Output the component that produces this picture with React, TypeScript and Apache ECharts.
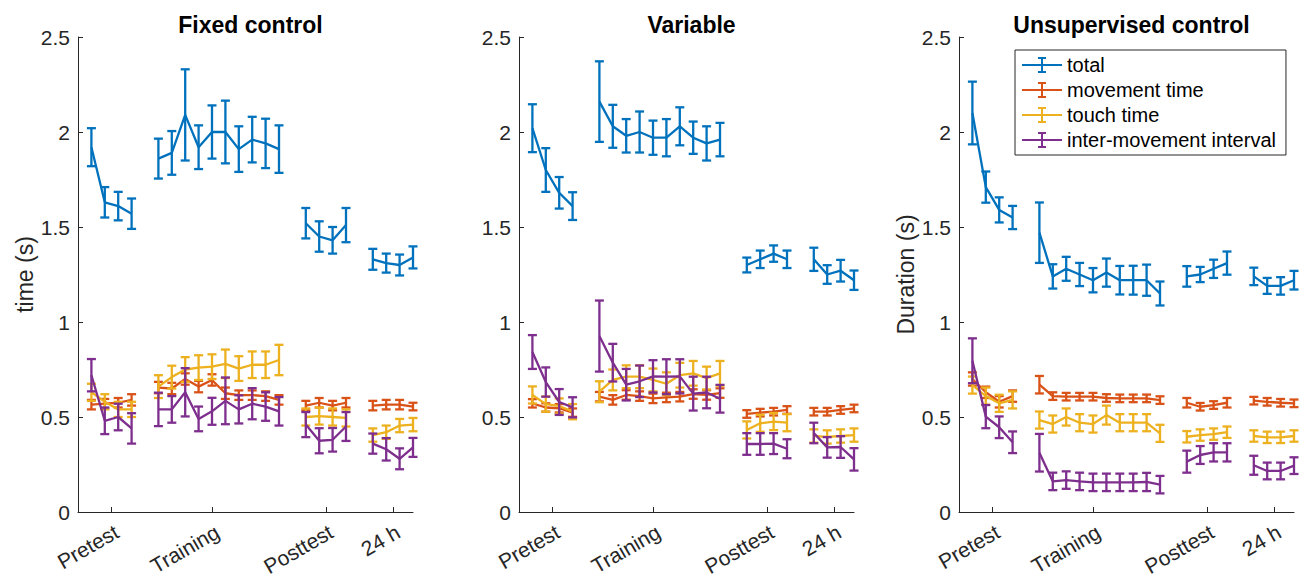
import React, { useEffect, useRef } from "react";
import * as echarts from "echarts";

// session positions on the x axis (pretest 4, training 10, posttest 4, 24 h 4)
const sessions = [1, 2, 3, 4, 6, 7, 8, 9, 10, 11, 12, 13, 14, 15, 17, 18, 19, 20, 22, 23, 24, 25];
const sessionGroup = [0, 0, 0, 0, 1, 1, 1, 1, 1, 1, 1, 1, 1, 1, 2, 2, 2, 2, 3, 3, 3, 3];
const phaseTicks = [2.5, 10, 18.5, 23.5];
const phaseLabels = ["Pretest", "Training", "Posttest", "24 h"];
const panelTitles = ["Fixed control", "Variable", "Unsupervised control"];
const measureNames = ["total", "movement time", "touch time", "inter-movement interval"];

// Fixed control
const fixedTotal = [1.92, 1.63, 1.61, 1.57, 1.86, 1.89, 2.09, 1.92, 2.0, 2.0, 1.91, 1.96, 1.94, 1.91, 1.52, 1.45, 1.43, 1.51, 1.33, 1.31, 1.3, 1.34];
const fixedTotalErr = [0.1, 0.08, 0.075, 0.08, 0.105, 0.115, 0.24, 0.115, 0.14, 0.165, 0.12, 0.12, 0.13, 0.125, 0.08, 0.08, 0.07, 0.09, 0.055, 0.05, 0.055, 0.058];
const fixedMove = [0.565, 0.57, 0.575, 0.59, 0.655, 0.65, 0.7, 0.66, 0.695, 0.625, 0.615, 0.615, 0.61, 0.59, 0.56, 0.575, 0.56, 0.575, 0.56, 0.565, 0.565, 0.555];
const fixedMoveErr = [0.025, 0.025, 0.025, 0.03, 0.03, 0.03, 0.03, 0.03, 0.03, 0.03, 0.025, 0.025, 0.025, 0.025, 0.025, 0.025, 0.025, 0.025, 0.025, 0.025, 0.025, 0.02];
const fixedTouch = [0.63, 0.58, 0.54, 0.54, 0.66, 0.71, 0.75, 0.76, 0.765, 0.78, 0.755, 0.775, 0.775, 0.8, 0.5, 0.505, 0.5, 0.495, 0.405, 0.42, 0.455, 0.46];
const fixedTouchErr = [0.045, 0.04, 0.04, 0.04, 0.06, 0.06, 0.065, 0.065, 0.065, 0.075, 0.065, 0.07, 0.07, 0.08, 0.045, 0.045, 0.045, 0.045, 0.035, 0.035, 0.035, 0.035];
const fixedIMI = [0.72, 0.48, 0.5, 0.44, 0.54, 0.54, 0.63, 0.49, 0.53, 0.585, 0.54, 0.57, 0.555, 0.53, 0.46, 0.375, 0.38, 0.45, 0.36, 0.33, 0.28, 0.34];
const fixedIMIErr = [0.085, 0.07, 0.07, 0.08, 0.088, 0.07, 0.127, 0.065, 0.071, 0.123, 0.074, 0.082, 0.075, 0.075, 0.066, 0.066, 0.062, 0.076, 0.053, 0.059, 0.055, 0.05];

// Variable
const varTotal = [2.02, 1.8, 1.68, 1.61, 2.16, 2.03, 1.98, 2.0, 1.97, 1.97, 2.03, 1.97, 1.94, 1.96, 1.3, 1.33, 1.36, 1.33, 1.33, 1.25, 1.27, 1.22];
const varTotalErr = [0.126, 0.115, 0.083, 0.073, 0.212, 0.113, 0.088, 0.108, 0.09, 0.098, 0.1, 0.085, 0.09, 0.088, 0.039, 0.046, 0.043, 0.046, 0.061, 0.049, 0.057, 0.051];
const varMove = [0.572, 0.55, 0.546, 0.523, 0.607, 0.59, 0.616, 0.61, 0.598, 0.603, 0.607, 0.621, 0.616, 0.626, 0.516, 0.523, 0.528, 0.537, 0.528, 0.528, 0.537, 0.545];
const varMoveErr = [0.022, 0.022, 0.022, 0.022, 0.025, 0.025, 0.025, 0.025, 0.025, 0.025, 0.025, 0.025, 0.025, 0.025, 0.02, 0.02, 0.02, 0.02, 0.02, 0.02, 0.02, 0.02];
const varTouch = [0.616, 0.568, 0.558, 0.528, 0.633, 0.695, 0.712, 0.712, 0.695, 0.675, 0.72, 0.73, 0.705, 0.73, 0.432, 0.467, 0.476, 0.47, 0.4, 0.395, 0.4, 0.405];
const varTouchErr = [0.045, 0.04, 0.04, 0.04, 0.055, 0.055, 0.06, 0.06, 0.06, 0.06, 0.065, 0.065, 0.06, 0.065, 0.045, 0.045, 0.045, 0.045, 0.035, 0.035, 0.035, 0.035];
const varIMI = [0.842, 0.684, 0.579, 0.551, 0.926, 0.786, 0.67, 0.688, 0.714, 0.712, 0.714, 0.623, 0.629, 0.596, 0.358, 0.358, 0.36, 0.333, 0.416, 0.34, 0.342, 0.277];
const varIMIErr = [0.089, 0.077, 0.068, 0.053, 0.187, 0.099, 0.083, 0.083, 0.085, 0.092, 0.09, 0.089, 0.083, 0.073, 0.057, 0.057, 0.055, 0.05, 0.054, 0.054, 0.057, 0.059];

// Unsupervised control
const unsTotal = [2.1, 1.71, 1.59, 1.55, 1.47, 1.24, 1.28, 1.25, 1.22, 1.26, 1.22, 1.22, 1.22, 1.15, 1.24, 1.25, 1.28, 1.31, 1.24, 1.19, 1.19, 1.22];
const unsTotalErr = [0.165, 0.082, 0.066, 0.061, 0.159, 0.064, 0.063, 0.061, 0.064, 0.074, 0.075, 0.076, 0.082, 0.063, 0.054, 0.04, 0.048, 0.061, 0.046, 0.042, 0.046, 0.049];
const unsMove = [0.7, 0.63, 0.58, 0.61, 0.67, 0.61, 0.607, 0.607, 0.607, 0.6, 0.598, 0.598, 0.598, 0.589, 0.575, 0.554, 0.563, 0.575, 0.586, 0.58, 0.575, 0.572];
const unsMoveErr = [0.035, 0.03, 0.03, 0.03, 0.046, 0.02, 0.02, 0.02, 0.02, 0.02, 0.02, 0.02, 0.02, 0.02, 0.025, 0.02, 0.02, 0.025, 0.02, 0.02, 0.02, 0.02];
const unsTouch = [0.668, 0.61, 0.572, 0.59, 0.484, 0.463, 0.5, 0.47, 0.463, 0.51, 0.47, 0.47, 0.47, 0.414, 0.396, 0.405, 0.41, 0.42, 0.4, 0.393, 0.393, 0.4];
const unsTouchErr = [0.045, 0.045, 0.045, 0.045, 0.045, 0.045, 0.045, 0.045, 0.045, 0.05, 0.045, 0.045, 0.045, 0.045, 0.03, 0.03, 0.03, 0.03, 0.03, 0.03, 0.03, 0.03];
const unsIMI = [0.796, 0.502, 0.446, 0.367, 0.312, 0.161, 0.168, 0.161, 0.156, 0.156, 0.156, 0.156, 0.158, 0.144, 0.265, 0.3, 0.314, 0.314, 0.246, 0.216, 0.216, 0.244];
const unsIMIErr = [0.118, 0.061, 0.057, 0.057, 0.099, 0.046, 0.046, 0.046, 0.046, 0.046, 0.046, 0.046, 0.048, 0.046, 0.058, 0.047, 0.048, 0.048, 0.05, 0.044, 0.044, 0.044];

const panels = [
  { means: [fixedTotal, fixedMove, fixedTouch, fixedIMI], errs: [fixedTotalErr, fixedMoveErr, fixedTouchErr, fixedIMIErr] },
  { means: [varTotal, varMove, varTouch, varIMI], errs: [varTotalErr, varMoveErr, varTouchErr, varIMIErr] },
  { means: [unsTotal, unsMove, unsTouch, unsIMI], errs: [unsTotalErr, unsMoveErr, unsTouchErr, unsIMIErr] },
];

const COLORS = ["#0072BD", "#D95319", "#EDB120", "#7E2F8E"];
const FONT = "'Liberation Sans', Arial, Helvetica, sans-serif";
const AXIS_COLOR = "#262626";
const GRID_LEFTS = [78, 519, 959];
const GRID_TOP = 37;
const GRID_W = 335;
const GRID_H = 475;
const LINE_W = 2.3;
const LEGEND_ICON = "path://M0,7H40V9H0Z M19,1H21V15H19Z M16,0H24V2H16Z M16,14H24V16H16Z";

function buildOption() {
  const grids: any[] = [];
  const xAxes: any[] = [];
  const yAxes: any[] = [];
  const titles: any[] = [];
  const series: any[] = [];

  GRID_LEFTS.forEach((left, p) => {
    grids.push({ left, top: GRID_TOP, width: GRID_W, height: GRID_H, containLabel: false, outerBoundsMode: "none" });
    titles.push({
      text: panelTitles[p],
      left: left + GRID_W / 2,
      top: 8,
      textAlign: "center",
      textStyle: { fontFamily: FONT, fontSize: 23, fontWeight: "bold", color: "#000" },
    });
    xAxes.push({
      type: "value",
      gridIndex: p,
      min: 0,
      max: 25,
      splitLine: { show: false },
      axisLine: { show: true, lineStyle: { color: AXIS_COLOR, width: 1 } },
      axisTick: { show: true, inside: true, length: 5, customValues: phaseTicks, lineStyle: { color: AXIS_COLOR } },
      axisLabel: {
        show: true,
        customValues: phaseTicks,
        rotate: 30,
        margin: 9,
        verticalAlign: "top",
        fontFamily: FONT,
        fontSize: 21,
        color: "#262626",
        formatter: (v: number) => {
          const i = phaseTicks.indexOf(v);
          return i >= 0 ? phaseLabels[i] : "";
        },
      },
    });
    yAxes.push({
      type: "value",
      gridIndex: p,
      min: 0,
      max: 2.5,
      interval: 0.5,
      name: p === 0 ? "time (s)" : p === 2 ? "Duration (s)" : "",
      nameLocation: "middle",
      nameGap: 42,
      nameTextStyle: { fontFamily: FONT, fontSize: 23, color: "#262626" },
      splitLine: { show: false },
      axisLine: { show: true, lineStyle: { color: AXIS_COLOR, width: 1 } },
      axisTick: { show: true, inside: true, length: 5, lineStyle: { color: AXIS_COLOR } },
      axisLabel: { fontFamily: FONT, fontSize: 21, color: "#262626", margin: 8 },
    });

    panels[p].means.forEach((means, m) => {
      const errs = panels[p].errs[m];
      const color = COLORS[m];
      const lineData: any[] = [];
      sessions.forEach((x, i) => {
        if (i > 0 && sessionGroup[i] !== sessionGroup[i - 1]) {
          lineData.push([(sessions[i - 1] + x) / 2, "-"]);
        }
        lineData.push([x, means[i]]);
      });
      series.push({
        type: "line",
        name: measureNames[m],
        xAxisIndex: p,
        yAxisIndex: p,
        data: lineData,
        showSymbol: false,
        symbol: "none",
        connectNulls: false,
        lineStyle: { color, width: LINE_W },
        itemStyle: { color },
        z: 2 + m,
      });
      series.push({
        type: "custom",
        name: measureNames[m],
        xAxisIndex: p,
        yAxisIndex: p,
        data: sessions.map((x, i) => [x, means[i], errs[i]]),
        itemStyle: { color },
        z: 2 + m,
        clip: false,
        renderItem: (params: any, api: any) => {
          const x = api.value(0);
          const mean = api.value(1);
          const e = api.value(2);
          const top = api.coord([x, mean + e]);
          const bot = api.coord([x, mean - e]);
          const hw = 4.5;
          const style = { stroke: color, lineWidth: LINE_W };
          return {
            type: "group",
            children: [
              { type: "line", shape: { x1: top[0], y1: top[1], x2: bot[0], y2: bot[1] }, style },
              { type: "line", shape: { x1: top[0] - hw, y1: top[1], x2: top[0] + hw, y2: top[1] }, style },
              { type: "line", shape: { x1: bot[0] - hw, y1: bot[1], x2: bot[0] + hw, y2: bot[1] }, style },
            ],
          };
        },
      });
    });
  });

  return {
    animation: false,
    backgroundColor: "#ffffff",
    textStyle: { fontFamily: FONT },
    title: titles,
    grid: grids,
    xAxis: xAxes,
    yAxis: yAxes,
    legend: {
      show: true,
      orient: "vertical",
      left: 1015,
      top: 50,
      backgroundColor: "#ffffff",
      borderColor: AXIS_COLOR,
      borderWidth: 1,
      borderRadius: 0,
      padding: [5, 10, 5, 7],
      itemGap: 5,
      itemWidth: 40,
      itemHeight: 16,
      selectedMode: false,
      textStyle: { fontFamily: FONT, fontSize: 20, color: "#000", width: 206, overflow: "none" },
      data: measureNames.map((name, m) => ({ name, icon: LEGEND_ICON, itemStyle: { color: COLORS[m] } })),
    },
    series,
  };
}

export default function App() {
  const ref = useRef<HTMLDivElement>(null);
  useEffect(() => {
    if (!ref.current) return;
    const chart = echarts.init(ref.current, undefined, { renderer: "svg" });
    chart.setOption(buildOption() as any);
    return () => chart.dispose();
  }, []);
  return <div ref={ref} style={{ position: "absolute", left: 0, top: 0, width: 1306, height: 579 }} />;
}
